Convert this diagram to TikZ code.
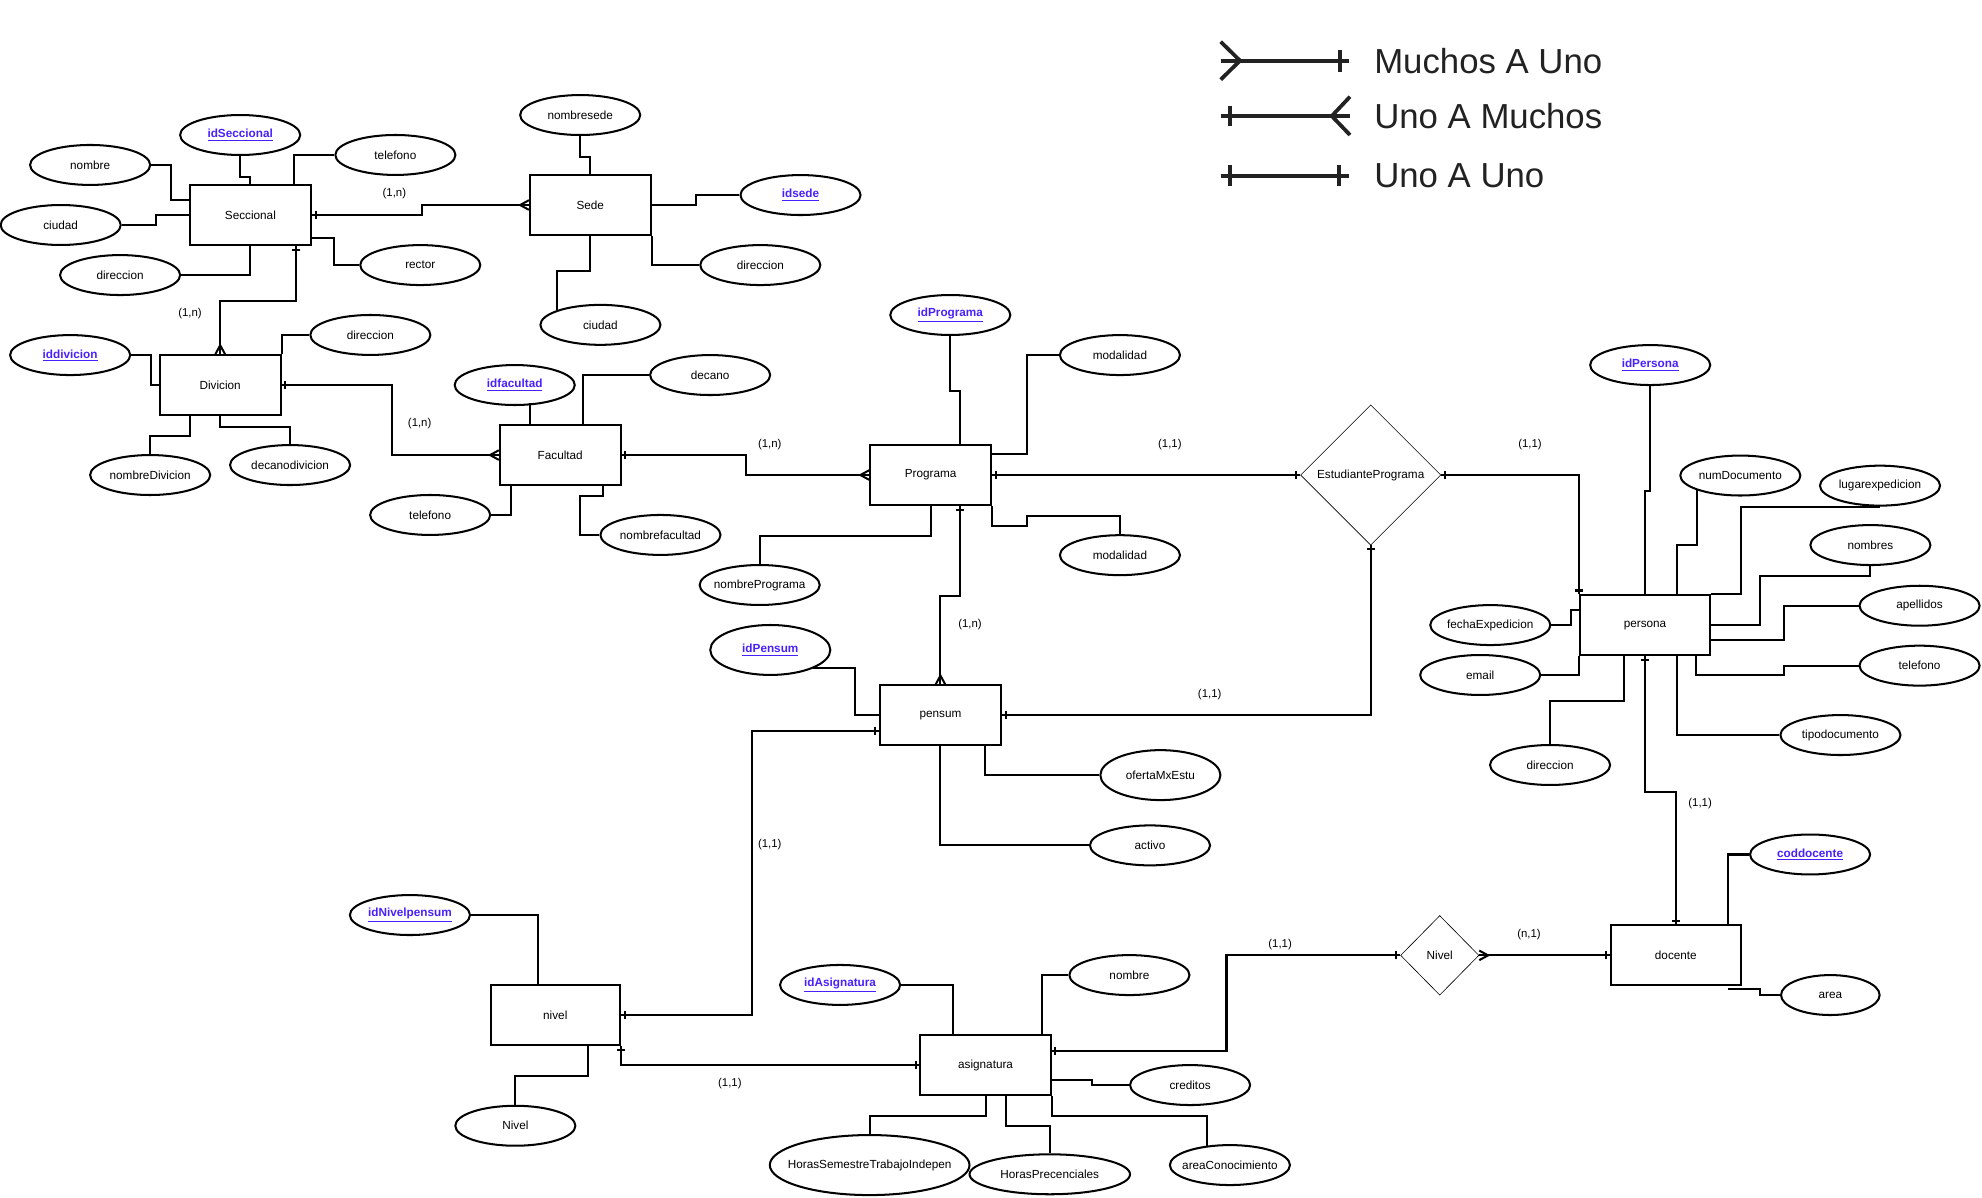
\documentclass[tikz,border=0pt]{standalone}
\usepackage{fontspec}
\setmainfont{Liberation Sans}
\usetikzlibrary{shapes.geometric}

\definecolor{keyblue}{RGB}{72,32,255}
\definecolor{legendgray}{RGB}{34,34,34}
\newcommand{\attrfont}{\fontsize{9.3}{11}\selectfont}
\newcommand{\cardfont}{\fontsize{9}{11}\selectfont}
\newcommand{\legfont}{\fontsize{27.5}{32}\selectfont}
\newcommand{\pk}[1]{\textbf{\underline{#1}}}

\tikzset{
  link/.style={line width=1.6pt},
  zw/.style={execute at begin node={\hbox to 0pt\bgroup\hss}, execute at end node={\hss\egroup}},
  entity/.style={draw, line width=1.6pt, minimum width=95.5pt, minimum height=47.5pt, inner sep=0pt, font=\attrfont},
  attr/.style={draw, ellipse, line width=1.6pt, minimum width=95pt, minimum height=31.6pt, inner sep=0pt, font=\attrfont, zw},
  keyattr/.style={attr, text=keyblue},
  rel/.style={draw, diamond, line width=0.5pt, inner sep=0pt, font=\attrfont, zw},
  card/.style={font=\cardfont},
  onebar/.pic={\draw[link] (3,-3.2) -- (3,3.2);},
  crowfoot/.pic={\draw[link] (0,-3.8) -- (7,0) -- (0,3.8);},
}

\begin{document}
\begin{tikzpicture}[x=1pt, y=-1pt]
  \useasboundingbox (0,0) rectangle (1568,947);

  % legend
  \draw[legendgray, line width=3pt] (965.7,48) -- (1067,48);
  \draw[legendgray, line width=3pt] (965.7,33) -- (981,48) -- (965.7,63);
  \draw[legendgray, line width=3pt] (1060,39.4) -- (1060,56.6);
  \draw[legendgray, line width=3pt] (965.7,91.8) -- (1068,91.8);
  \draw[legendgray, line width=3pt] (973,83.6) -- (973,100);
  \draw[legendgray, line width=3pt] (1068,76.5) -- (1053.6,91.8) -- (1068,106.8);
  \draw[legendgray, line width=3pt] (965.7,139) -- (1067,139);
  \draw[legendgray, line width=3pt] (973,130.8) -- (973,147.2);
  \draw[legendgray, line width=3pt] (1059,130.8) -- (1059,147.2);
  \node[anchor=west, inner sep=0pt, font=\legfont, text=legendgray] (leg1) at (1087,48) {Muchos A Uno};
  \node[anchor=west, inner sep=0pt, font=\legfont, text=legendgray] (leg2) at (1087,91.5) {Uno A Muchos};
  \node[anchor=west, inner sep=0pt, font=\legfont, text=legendgray] (leg3) at (1087,139) {Uno A Uno};

  % Seccional
  \node[entity] (seccional) at (198.1,170.4) {Seccional};
  \node[keyattr] (idsec) at (190,106.8) {\pk{idSeccional}};
  \node[attr] (telsec) at (312.8,122.6) {telefono};
  \node[attr] (nomsec) at (71.3,130.5) {nombre};
  \node[attr] (ciusec) at (48,178) {ciudad};
  \node[attr] (dirsec) at (95,217.6) {direccion};
  \node[attr] (rector) at (332.5,209.7) {rector};

  % Sede
  \node[entity] (sede) at (467,162.2) {Sede};
  \node[attr] (nomsede) at (459,91) {nombresede};
  \node[keyattr] (idsede) at (633.3,154.3) {\pk{idsede}};
  \node[attr] (dirsede) at (601.5,209.7) {direccion};
  \node[attr] (ciusede) at (475,257) {ciudad};

  % Divicion
  \node[entity] (divicion) at (174.2,304.7) {Divicion};
  \node[keyattr] (iddiv) at (55.5,280.9) {\pk{iddivicion}};
  \node[attr] (dirdiv) at (293,265) {direccion};
  \node[attr] (nomdiv) at (118.8,375.8) {nombreDivicion};
  \node[attr] (decdiv) at (229.5,367.9) {decanodivicion};

  % Facultad
  \node[entity] (facultad) at (443.2,360) {Facultad};
  \node[keyattr] (idfac) at (407.2,304.6) {\pk{idfacultad}};
  \node[attr] (decano) at (561.8,296.7) {decano};
  \node[attr] (nomfac) at (522.5,423.2) {nombrefacultad};
  \node[attr] (telfac) at (340.3,407.4) {telefono};

  % Programa
  \node[entity] (programa) at (736.2,375.8) {Programa};
  \node[keyattr] (idprog) at (751.8,249.2) {\pk{idPrograma}};
  \node[attr] (modsup) at (886,280.9) {modalidad};
  \node[attr] (modinf) at (886,439.2) {modalidad};
  \node[attr] (nomprog) at (601,462.8) {nombrePrograma};

  \node[rel, minimum width=111pt, minimum height=111pt] (estprog) at (1084.4,375.8) {EstudiantePrograma};

  % pensum
  \node[entity] (pensum) at (744,566) {pensum};
  \node[keyattr, minimum height=39.5pt] (idpensum) at (609.4,514.2) {\pk{idPensum}};
  \node[attr, minimum height=39.5pt] (oferta) at (918,613.2) {ofertaMxEstu};
  \node[attr] (activo) at (909.8,668.8) {activo};

  % persona
  \node[entity, minimum width=103pt] (persona) at (1301.4,494.7) {persona};
  \node[keyattr] (idpers) at (1305.5,288.8) {\pk{idPersona}};
  \node[attr] (numdoc) at (1376.8,376.2) {numDocumento};
  \node[attr] (lugar) at (1487.3,384.2) {lugarexpedicion};
  \node[attr] (nombres) at (1479.7,431.2) {nombres};
  \node[attr] (apell) at (1518.6,479.2) {apellidos};
  \node[attr] (telpers) at (1518.6,526.6) {telefono};
  \node[attr] (tipodoc) at (1456,581.5) {tipodocumento};
  \node[attr] (dirpers) at (1226.3,605.2) {direccion};
  \node[attr] (email) at (1171,534) {email};
  \node[attr] (fecha) at (1179,494.5) {fechaExpedicion};

  % docente
  \node[entity, minimum width=103pt] (docente) at (1325.8,755.8) {docente};
  \node[keyattr] (coddoc) at (1432,676) {\pk{coddocente}};
  \node[attr, minimum width=78pt] (area) at (1448,787.2) {area};
  \node[rel, minimum width=62pt, minimum height=63pt] (nivelrel) at (1139,755.8) {Nivel};

  % nivel
  \node[entity, minimum width=102.5pt] (nivel) at (439.3,803.3) {nivel};
  \node[keyattr] (idnivel) at (324.3,723.9) {\pk{idNivelpensum}};
  \node[attr] (nivelatr) at (407.7,890.6) {Nivel};

  % asignatura
  \node[entity, minimum width=103pt] (asignatura) at (779.7,842.6) {asignatura};
  \node[keyattr] (idasig) at (664.6,779.2) {\pk{idAsignatura}};
  \node[attr] (nomasig) at (893.5,771.4) {nombre};
  \node[attr] (creditos) at (941.5,858.4) {creditos};
  \node[attr, minimum width=158pt, minimum height=47.5pt] (horassem) at (688,921.7) {HorasSemestreTrabajoIndepen};
  \node[attr, minimum width=127pt] (horaspre) at (830.5,929) {HorasPrecenciales};
  \node[attr] (areacon) at (973,921.7) {areaConocimiento};

  % attribute links
  \draw[link] (idsec.south) -- ++(0,16.4) -| (seccional.north);
  \draw[link] (telsec.west) -| ([xshift=34.4pt]seccional.north);
  \draw[link] (nomsec.east) -- ++(16,0) |- ([yshift=12pt]seccional.west);
  \draw[link] (ciusec.east) -- ++(27,0) |- (seccional.west);
  \draw[link] (dirsec.east) -| (seccional.south);
  \draw[link] (rector.west) -- ++(-19.8,0) |- ([yshift=-18.2pt]seccional.east);

  \draw[link] (nomsede.south) -- ++(0,16.4) -| (sede.north);
  \draw[link] (sede.east) -- ++(35,0) |- (idsede.west);
  \draw[link] (sede.south east) |- (dirsede.west);
  \draw[link] (sede.south) -- ++(0,27.7) -| (ciusede.north west);

  \draw[link] (iddiv.east) -- ++(15.6,0) |- (divicion.west);
  \draw[link] (divicion.north east) |- (dirdiv.west);
  \draw[link] ([xshift=-23.7pt]divicion.south) -- ++(0,15.8) -| (nomdiv.north);
  \draw[link] (divicion.south) -- ++(0,8.5) -| (decdiv.north);

  \draw[link] ([xshift=-24pt]facultad.north) -- ++(0,-16.3);
  \draw[link] ([xshift=18pt]facultad.north) |- (decano.west);
  \draw[link] ([xshift=34pt]facultad.south) -- ++(0,8) -- ++(-18,0) |- (nomfac.west);
  \draw[link] ([xshift=-38.8pt]facultad.south) |- (telfac.east);

  \draw[link] (idprog.south) -- ++(0,43.5) -| ([xshift=23.3pt]programa.north);
  \draw[link] ([yshift=16.6pt]programa.east) -- ++(27.5,0) |- (modsup.west);
  \draw[link] (programa.south east) -- ++(0,15.8) -- ++(27.5,0) -- ++(0,-7.9) -| (modinf.north);
  \draw[link] (programa.south) -- ++(0,23.8) -| (nomprog.north);

  \draw[link] (idpensum.south east) -- ++(33,0) |- (pensum.west);
  \draw[link] ([xshift=35.5pt]pensum.south) |- (oferta.west);
  \draw[link] (pensum.south) |- (activo.west);

  \draw[link] (idpers.south) -- ++(0,83) -| (persona.north);
  \draw[link] (numdoc.south west) -- ++(0,43.5) -| ([xshift=25.6pt]persona.north);
  \draw[link] (persona.north east) -- ++(23.8,0) |- (lugar.south);
  \draw[link] (nombres.south) -- ++(0,8) -- ++(-87.3,0) |- (persona.east);
  \draw[link] (apell.west) -- ++(-59,0) |- ([yshift=-11.6pt]persona.east);
  \draw[link] (telpers.west) -- ++(-59,0) -- ++(0,7.4) -| ([xshift=40.4pt]persona.south);
  \draw[link] ([xshift=25.6pt]persona.south) |- (tipodoc.west);
  \draw[link] ([xshift=-16.8pt]persona.south) -- ++(0,35.6) -| (dirpers.north);
  \draw[link] (email.east) -| (persona.south west);
  \draw[link] (fecha.east) -- ++(15.7,0) |- ([yshift=12pt]persona.west);

  \draw[link] (coddoc.west) -| ([xshift=41.6pt]docente.north);
  \draw[link] ([xshift=41.6pt,yshift=-1.8pt]docente.south) -- ++(24.8,0) |- (area.west);

  \draw[link] (idnivel.east) -| ([xshift=-14pt]nivel.north);
  \draw[link] ([xshift=25.7pt]nivel.south) -- ++(0,23.7) -| (nivelatr.north);

  \draw[link] (idasig.east) -| ([xshift=-25.7pt]asignatura.north);
  \draw[link] ([xshift=45pt]asignatura.north) |- (nomasig.west);
  \draw[link] ([yshift=-11.8pt]asignatura.east) -- ++(31.8,0) |- (creditos.west);
  \draw[link] (asignatura.south) -- ++(0,15.7) -| (horassem.north);
  \draw[link] ([xshift=16.3pt]asignatura.south) -- ++(0,23.7) -| (horaspre.north);
  \draw[link] (asignatura.south east) -- ++(0,15.7) -| (areacon.140);

  % relationships
  \draw[link] (seccional.east) -- ++(87,0) |- (sede.west);
  \draw[link] ([xshift=36.4pt]seccional.south) -- ++(0,43.5) -| (divicion.north);
  \draw[link] (divicion.east) -- ++(87,0) |- (facultad.west);
  \draw[link] (facultad.east) -- ++(98.5,0) |- (programa.west);
  \draw[link] ([xshift=23.3pt]programa.south) -- ++(0,71.2) -| (pensum.north);
  \draw[link] (programa.east) -- (estprog.west);
  \draw[link] (estprog.east) -| (persona.north west);
  \draw[link] (estprog.south) |- (pensum.east);
  \draw[link] (nivel.east) -- ++(103.5,0) |- ([yshift=-12pt]pensum.west);
  \draw[link] (nivel.south east) |- (asignatura.west);
  \draw[link] (persona.south) -- ++(0,107.3) -| (docente.north);
  \draw[link] ([yshift=11.4pt]asignatura.east) -- ++(138.3,0) |- (nivelrel.west);
  \draw[link] (nivelrel.east) -- (docente.west);

  \pic at (seccional.east) {onebar};
  \pic[rotate=270] at ([xshift=36.4pt]seccional.south) {onebar};
  \pic[rotate=180] at (sede.west) {crowfoot};
  \pic[rotate=90] at (divicion.north) {crowfoot};
  \pic at (divicion.east) {onebar};
  \pic[rotate=180] at (facultad.west) {crowfoot};
  \pic at (facultad.east) {onebar};
  \pic[rotate=180] at (programa.west) {crowfoot};
  \pic[rotate=270] at ([xshift=23.3pt]programa.south) {onebar};
  \pic[rotate=90] at (pensum.north) {crowfoot};
  \pic at (programa.east) {onebar};
  \pic[rotate=180] at (estprog.west) {onebar};
  \pic at (estprog.east) {onebar};
  \pic[rotate=90] at (persona.north west) {onebar};
  \pic[rotate=270] at (estprog.south) {onebar};
  \pic at (pensum.east) {onebar};
  \pic[rotate=180] at ([yshift=-12pt]pensum.west) {onebar};
  \pic at (nivel.east) {onebar};
  \pic[rotate=270] at (nivel.south east) {onebar};
  \pic[rotate=180] at (asignatura.west) {onebar};
  \pic[rotate=270] at (persona.south) {onebar};
  \pic[rotate=90] at (docente.north) {onebar};
  \pic at ([yshift=11.4pt]asignatura.east) {onebar};
  \pic[rotate=180] at (nivelrel.west) {onebar};
  \pic at (nivelrel.east) {crowfoot};
  \pic[rotate=180] at (docente.west) {onebar};

  % cardinalities
  \node[card] (c1) at (312,153.5) {(1,n)};
  \node[card] (c2) at (150.3,248.4) {(1,n)};
  \node[card] (c3) at (332,335.4) {(1,n)};
  \node[card] (c4) at (609,351.3) {(1,n)};
  \node[card] (c5) at (925.5,351.3) {(1,1)};
  \node[card] (c6) at (1210.4,352) {(1,1)};
  \node[card] (c7) at (767.4,493.7) {(1,n)};
  \node[card] (c8) at (957,549.3) {(1,1)};
  \node[card] (c9) at (609,667.8) {(1,1)};
  \node[card] (c10) at (577.4,857.6) {(1,1)};
  \node[card] (c11) at (1012.7,747) {(1,1)};
  \node[card] (c12) at (1209.6,739) {(n,1)};
  \node[card] (c13) at (1345,636) {(1,1)};
\end{tikzpicture}
\end{document}
